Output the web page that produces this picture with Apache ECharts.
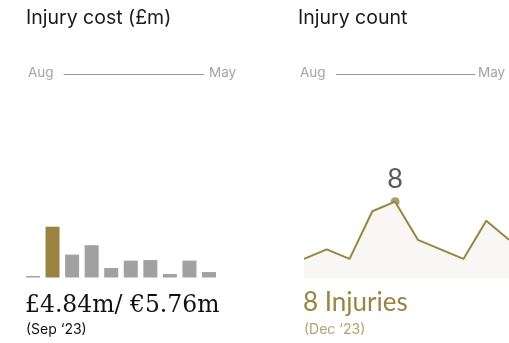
<!DOCTYPE html>
<html>
<head>
<meta charset="utf-8">
<script src="https://cdn.jsdelivr.net/npm/echarts@6/dist/echarts.min.js"></script>
<style>
  html, body { margin: 0; padding: 0; background: #ffffff; }
  #chart { width: 509px; height: 343px; }
</style>
</head>
<body>
<div id="chart"></div>
<script>
// Season months, August to May
const months = ['Aug', 'Sep', 'Oct', 'Nov', 'Dec', 'Jan', 'Feb', 'Mar', 'Apr', 'May'];
// Injury cost per month (£m)
const costValues = [0.14, 4.84, 2.18, 3.08, 0.90, 1.61, 1.66, 0.33, 1.61, 0.52];
// Injury count per month
const countValues = [2, 3, 2, 7, 8, 4, 3, 2, 6, 4];
// Highlighted months
const costPeak = 1;   // Sep '23
const countPeak = 4;  // Dec '23
const costEuro = 5.76;
const peakLabels = ['(Sep \u201823)', '(Dec \u201823)'];

const GOLD = '#9a8441';
const GREY = '#a1a1a1';
const SANS = 'Inter, "Noto Sans", sans-serif';

const chart = echarts.init(document.getElementById('chart'), null, { renderer: 'canvas' });

function rangeHeader(x, title, lineFrom, lineTo, mayX) {
  return [
    { type: 'text', left: x, top: 8, style: { text: title, font: '400 19.5px ' + SANS, fill: '#1a1a1a' } },
    { type: 'text', left: x + 2, top: 66, style: { text: months[0], font: '400 13.5px ' + SANS, fill: '#a3a3a3' } },
    { type: 'line', shape: { x1: lineFrom, y1: 74.5, x2: lineTo, y2: 74.5 }, style: { stroke: '#9a9a9a', lineWidth: 1 } },
    { type: 'text', left: mayX, top: 66, style: { text: months[months.length - 1], font: '400 13.5px ' + SANS, fill: '#a3a3a3' } }
  ];
}

const option = {
  backgroundColor: '#ffffff',
  animation: false,
  grid: [
    { left: 23.2, width: 195.6, top: 226.7, height: 50.8 },
    { left: 304, right: -1, top: 201.7, height: 76.3 }
  ],
  xAxis: [
    { type: 'category', gridIndex: 0, data: months, show: false },
    { type: 'category', gridIndex: 1, data: months, show: false, boundaryGap: false }
  ],
  yAxis: [
    { type: 'value', gridIndex: 0, min: 0, max: costValues[costPeak], show: false },
    { type: 'value', gridIndex: 1, min: 0, max: countValues[countPeak], show: false }
  ],
  series: [
    {
      type: 'bar',
      xAxisIndex: 0, yAxisIndex: 0,
      data: costValues,
      barWidth: 14,
      itemStyle: {
        color: function (p) { return p.dataIndex === costPeak ? GOLD : GREY; }
      },
      silent: true
    },
    {
      type: 'line',
      xAxisIndex: 1, yAxisIndex: 1,
      data: countValues,
      symbol: 'none',
      lineStyle: { color: GOLD, width: 2 },
      areaStyle: { color: '#f8f7f3', opacity: 1 },
      silent: true
    },
    {
      type: 'scatter',
      xAxisIndex: 1, yAxisIndex: 1,
      data: [[months[countPeak], countValues[countPeak]]],
      symbol: 'circle',
      symbolSize: 9,
      itemStyle: { color: GOLD },
      label: {
        show: true,
        position: 'top',
        distance: 4,
        formatter: function (p) { return String(p.value[1]); },
        fontSize: 27,
        fontFamily: 'Lato, sans-serif',
        color: '#2e2e2e'
      },
      silent: true
    }
  ],
  graphic: [
    ...rangeHeader(26, 'Injury cost (\u00a3m)', 63.5, 204, 209),
    ...rangeHeader(298, 'Injury count', 336, 475, 478),
    {
      type: 'text', left: 25, top: 294,
      style: {
        text: '\u00a3' + costValues[costPeak].toFixed(2) + 'm/ \u20ac' + costEuro.toFixed(2) + 'm',
        font: '400 23.5px "DejaVu Serif", serif', fill: '#111111'
      }
    },
    { type: 'text', left: 26, top: 323, style: { text: peakLabels[0], font: '400 14px ' + SANS, fill: '#111111' } },
    {
      type: 'text', left: 303, top: 290,
      style: { text: countValues[countPeak] + ' Injuries', font: '400 26px Lato, sans-serif', fill: GOLD }
    },
    { type: 'text', left: 304, top: 323, style: { text: peakLabels[1], font: '400 14px ' + SANS, fill: '#b3a272' } }
  ]
};

chart.setOption(option);
</script>
</body>
</html>
